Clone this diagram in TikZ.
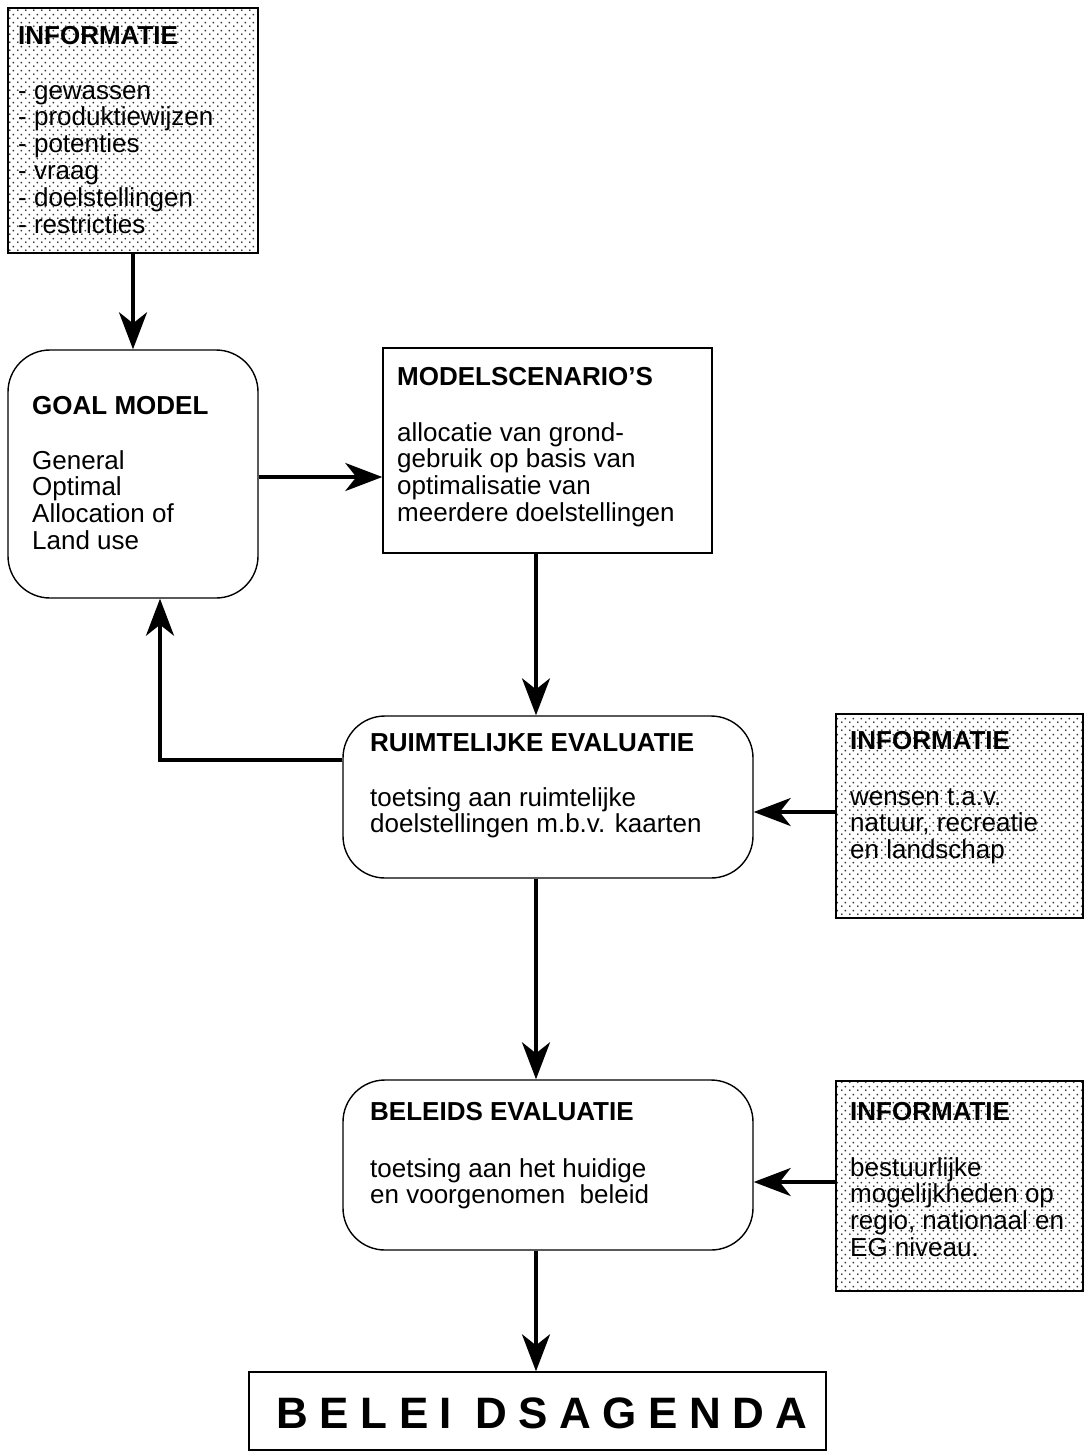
\documentclass[tikz,border=0pt]{standalone}
\usepackage{fontspec}
\setmainfont{Liberation Sans}
\usetikzlibrary{arrows.meta,patterns.meta}
\tikzdeclarepattern{name=infodots, type=uncolored,
  bottom left={(0pt,0pt)}, top right={(8pt,8pt)}, tile size={(8pt,8pt)},
  code={\fill (2pt,2pt) circle (1.1pt); \fill (6pt,6pt) circle (1.1pt);}}
\newcommand\blk[1]{\vtop{\baselineskip=26.8pt\lineskiplimit=-20pt\lineskip=0pt #1}}
\begin{document}
\begin{tikzpicture}[x=1pt,y=-1pt,
  txt/.style={inner sep=0pt,anchor=base west,font=\fontsize{26}{27}\selectfont},
  ttl/.style={txt,font=\fontsize{26}{27}\selectfont\bfseries},
  sq/.style={draw,line width=1.4pt,inner sep=0pt},
  rnd/.style={draw,line width=1.4pt,inner sep=0pt,rounded corners=42pt},
  info/.style={draw,line width=1.4pt,inner sep=0pt,pattern={infodots},pattern color=black!80},
  arr/.style={line width=3.8pt,-{Stealth[length=37pt,width=28pt,inset=11pt]}}]
\useasboundingbox (0,0) rectangle (1085,1452);

% boxes
\node[info,minimum width=250pt,minimum height=245pt] (info1) at (133,130.5) {};
\node[rnd,minimum width=250pt,minimum height=248pt] (goal) at (133,474) {};
\node[sq,minimum width=329pt,minimum height=205pt] (model) at (547.5,450.5) {};
\node[rnd,minimum width=410pt,minimum height=162pt] (ruimt) at (548,797) {};
\node[info,minimum width=247pt,minimum height=204pt] (info2) at (959.5,816) {};
\node[rnd,minimum width=410pt,minimum height=170pt] (beleid) at (548,1165) {};
\node[info,minimum width=247pt,minimum height=210pt] (info3) at (959.5,1186) {};
\node[sq,minimum width=577pt,minimum height=78pt] (agenda) at (537.5,1411) {};

% texts
\node[ttl] (t1) at (18,44) {INFORMATIE};
\node[txt] (b1) at (18,99) {\blk{\hbox{- gewassen}\hbox{- produktiewijzen}\hbox{- potenties}\hbox{- vraag}\hbox{- doelstellingen}\hbox{- restricties}}};

\node[ttl] (t2) at (32,414) {GOAL MODEL};
\node[txt] (b2) at (32,469) {\blk{\hbox{General}\hbox{Optimal}\hbox{Allocation of}\hbox{Land use}}};

\node[ttl] (t3) at (397,385) {MODELSCENARIO\symbol{39}S};
\node[txt] (b3) at (397,441) {\blk{\hbox{allocatie van grond-}\hbox{gebruik op basis van}\hbox{optimalisatie van}\hbox{meerdere doelstellingen}}};

\node[ttl] (t4) at (370,751) {RUIMTELIJKE EVALUATIE};
\node[txt] (b4) at (370,806) {\blk{\hbox{toetsing aan ruimtelijke}\hbox{doelstellingen m.b.v. kaarten}}};

\node[ttl] (t5) at (850,749) {INFORMATIE};
\node[txt] (b5) at (850,805) {\blk{\hbox{wensen t.a.v.}\hbox{natuur, recreatie}\hbox{en landschap}}};

\node[ttl] (t6) at (370,1120) {BELEIDS EVALUATIE};
\node[txt] (b6) at (370,1177) {\blk{\hbox{toetsing aan het huidige}\hbox{en voorgenomen\ \ beleid}}};

\node[ttl] (t7) at (850,1120) {INFORMATIE};
\node[txt] (b7) at (850,1176) {\blk{\hbox{bestuurlijke}\hbox{mogelijkheden op}\hbox{regio, nationaal en}\hbox{EG niveau.}}};

\node[inner sep=0pt,anchor=base,font=\fontsize{44}{46}\selectfont\bfseries] (t8) at (542,1428)
  {B\hspace{11.5pt}E\hspace{11.5pt}L\hspace{11.5pt}E\hspace{11.5pt}I\hspace{23pt}D\hspace{11.5pt}S\hspace{11.5pt}A\hspace{11.5pt}G\hspace{11.5pt}E\hspace{11.5pt}N\hspace{11.5pt}D\hspace{11.5pt}A};

% connectors
\draw[arr] (info1.south) -- (goal.north);
\draw[arr] ([yshift=-3pt]goal.east) -- ([yshift=-3pt]goal.east -| model.west);
\draw[arr] ([xshift=-11.5pt]model.south) -- ([xshift=-12pt]ruimt.north);
\draw[arr] ([yshift=37pt]ruimt.west) -| ([xshift=27pt]goal.south);
\draw[arr] ([yshift=4pt]info2.west) -- ([yshift=4pt]info2.west -| ruimt.east);
\draw[arr] ([xshift=-12pt]ruimt.south) -- ([xshift=-12pt]beleid.north);
\draw[arr] ([yshift=4pt]info3.west) -- ([yshift=4pt]info3.west -| beleid.east);
\draw[arr] ([xshift=-12pt]beleid.south) -- ([xshift=-1.5pt]agenda.north);
\end{tikzpicture}
\end{document}
